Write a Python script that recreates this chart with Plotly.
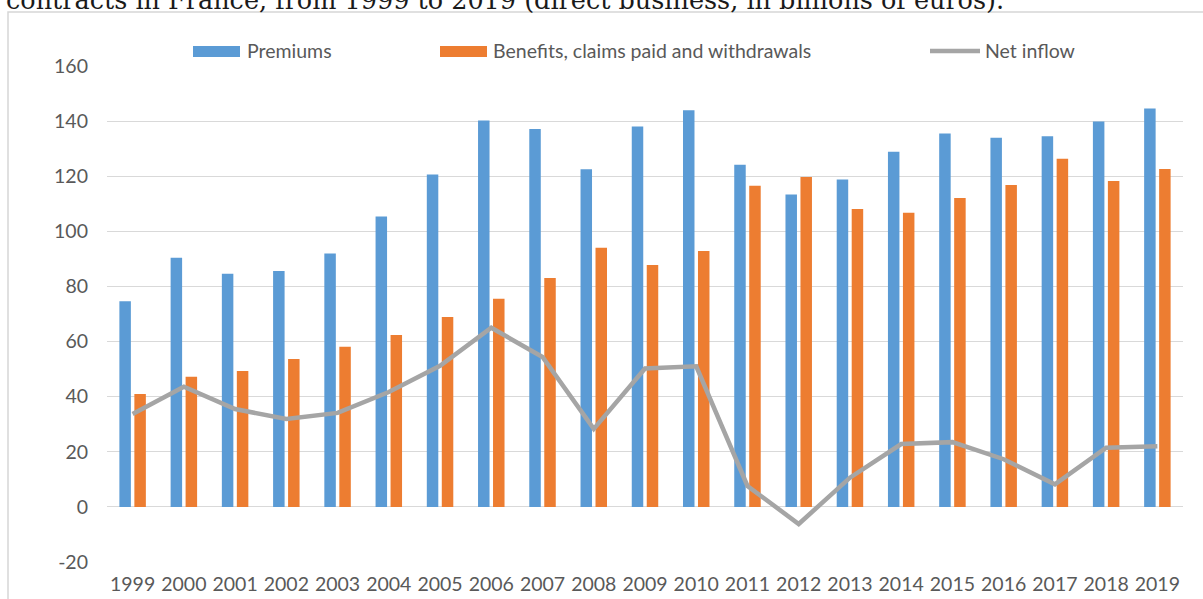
import plotly.graph_objects as go

years = [str(y) for y in range(1999, 2020)]
premiums = [74.6, 90.4, 84.6, 85.6, 92.0, 105.4, 120.6, 140.2, 137.1, 122.5, 138.0,
            143.9, 124.2, 113.4, 118.8, 128.9, 135.5, 134.0, 134.5, 139.9, 144.6]
benefits = [41.0, 47.2, 49.3, 53.7, 58.1, 62.4, 68.9, 75.5, 83.1, 94.0, 87.8,
            92.9, 116.5, 119.7, 108.1, 106.7, 112.1, 116.8, 126.3, 118.3, 122.6]
net_inflow = [33.7, 43.6, 35.5, 31.9, 34.1, 41.7, 51.2, 65.0, 54.4, 28.3, 50.2,
              51.0, 7.6, -6.2, 10.6, 22.8, 23.5, 17.3, 8.2, 21.5, 22.0]
y_ticks = [-20, 0, 20, 40, 60, 80, 100, 120, 140, 160]
y_tick_labels = ["-20", "0", "20", "40", "60", "80", "100", "120", "140", "160"]
legend_labels = ["Premiums", "Benefits, claims paid and withdrawals", "Net inflow"]
caption = "contracts in France, from 1999 to 2019 (direct business, in billions of euros)."

BLUE = "#5b9bd5"
ORANGE = "#ed7d31"
GRAY = "#a5a5a5"
TXT = "#595959"
GRID = "#d9d9d9"
FONT = "Lato"

W, H = 1203, 599
L, R, T, B = 107, 20, 66, 37
PW, PH = W - L - R, H - T - B


def px(x):
    return (x - L) / PW


def py(y):
    return (H - B - y) / PH


fig = go.Figure()
fig.add_trace(go.Bar(x=years, y=premiums, name=legend_labels[0], marker_color=BLUE,
                     marker_line_width=0, showlegend=False))
fig.add_trace(go.Bar(x=years, y=benefits, name=legend_labels[1], marker_color=ORANGE,
                     marker_line_width=0, showlegend=False))
fig.add_trace(go.Scatter(x=years, y=net_inflow, name=legend_labels[2], mode="lines",
                         line=dict(color=GRAY, width=4.5), showlegend=False))

shapes = [
    # outer chart border
    dict(type="rect", xref="paper", yref="paper", x0=px(8), x1=px(1215), y0=py(615), y1=py(12),
         line=dict(color="#d6d6d6", width=1.5), fillcolor="rgba(0,0,0,0)", layer="below"),
    # legend swatches
    dict(type="rect", xref="paper", yref="paper", x0=px(193), x1=px(240), y0=py(57), y1=py(46),
         line=dict(width=0), fillcolor=BLUE),
    dict(type="rect", xref="paper", yref="paper", x0=px(440), x1=px(487), y0=py(57), y1=py(46),
         line=dict(width=0), fillcolor=ORANGE),
    dict(type="line", xref="paper", yref="paper", x0=px(930), x1=px(980), y0=py(51), y1=py(51),
         line=dict(color=GRAY, width=4.5)),
]

annotations = [
    dict(text=legend_labels[0], x=px(245), y=py(51), xref="paper", yref="paper",
         xanchor="left", yanchor="middle", showarrow=False,
         font=dict(family=FONT, size=19.5, color=TXT)),
    dict(text=legend_labels[1], x=px(491), y=py(51), xref="paper", yref="paper",
         xanchor="left", yanchor="middle", showarrow=False,
         font=dict(family=FONT, size=19.5, color=TXT)),
    dict(text=legend_labels[2], x=px(983), y=py(51), xref="paper", yref="paper",
         xanchor="left", yanchor="middle", showarrow=False,
         font=dict(family=FONT, size=19.5, color=TXT)),
    dict(text=caption, x=px(4), y=py(0), xref="paper", yref="paper",
         xanchor="left", yanchor="middle", showarrow=False,
         font=dict(family="DejaVu Serif", size=25.5, color="#1a1a1a")),
]

fig.update_layout(
    width=W, height=H,
    margin=dict(l=L, r=R, t=T, b=B, pad=0, autoexpand=False),
    paper_bgcolor="white", plot_bgcolor="white",
    barmode="group", bargap=0.415, bargroupgap=0.233,
    shapes=shapes, annotations=annotations,
    font=dict(family=FONT, size=19.5, color=TXT),
    xaxis=dict(type="category", showgrid=False, showline=False, ticks="",
               tickfont=dict(family=FONT, size=19.5, color=TXT), automargin=False,
               ticklabelstandoff=8, fixedrange=True),
    yaxis=dict(range=[-20, 160], tickvals=y_ticks, ticktext=y_tick_labels,
               showgrid=True, gridcolor=GRID, automargin=False,
               gridwidth=1.3, zeroline=True, zerolinecolor=GRID, zerolinewidth=1.3,
               showline=False, ticks="", tickfont=dict(family=FONT, size=19.5, color=TXT),
               ticklabelstandoff=18, fixedrange=True),
)

fig.write_html("out.html", config={"displayModeBar": False},
               post_script="document.body.style.margin='0px';")
